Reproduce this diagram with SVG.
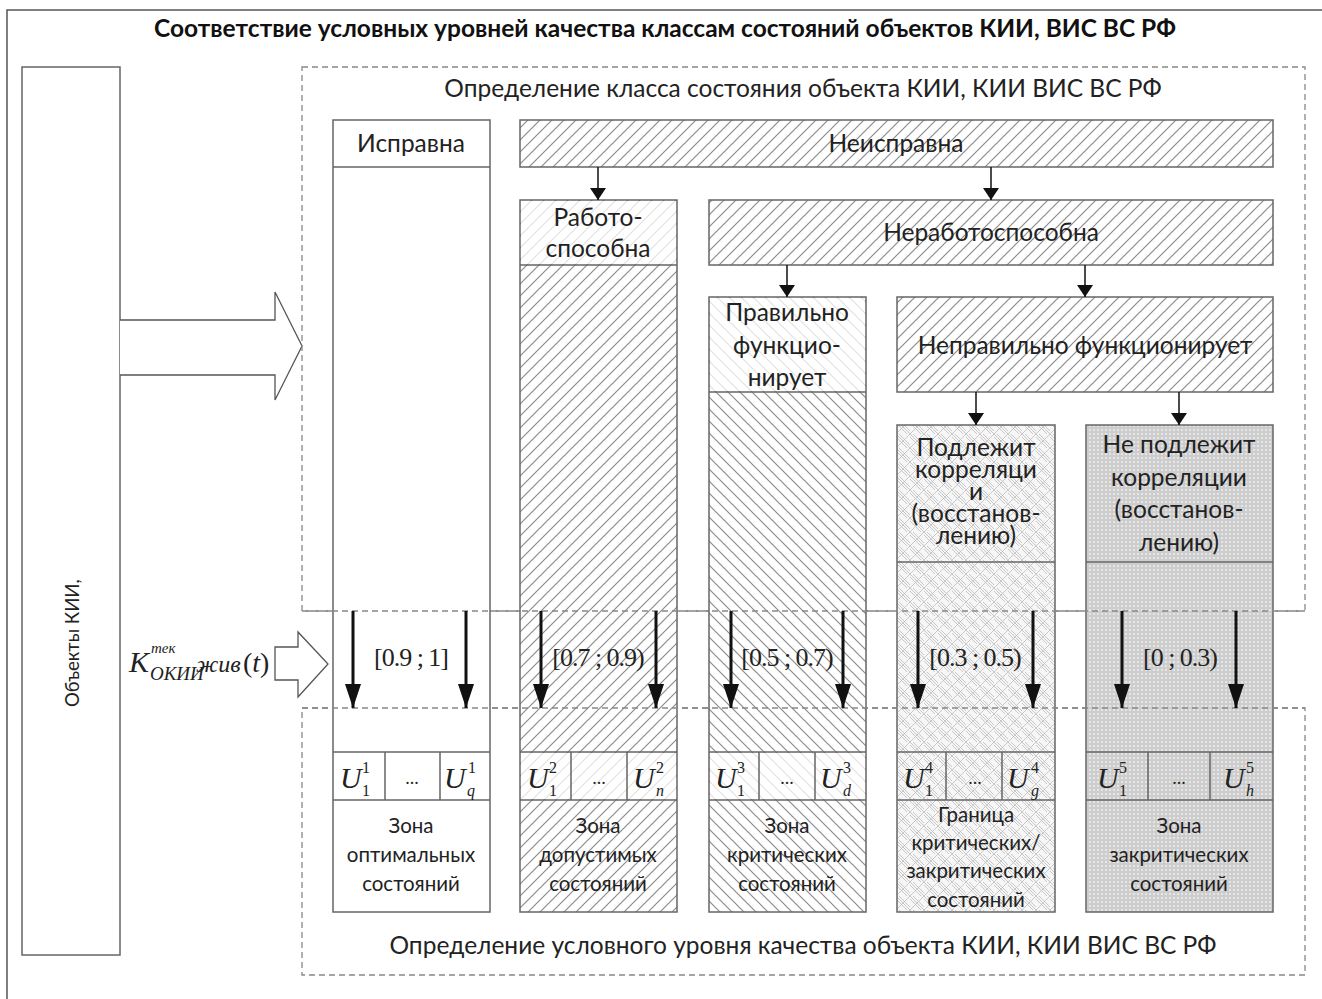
<svg xmlns="http://www.w3.org/2000/svg" width="1322" height="999" viewBox="0 0 1322 999">
  <style>
    .frame { fill: none; stroke: #555; stroke-width: 1.5; }
    .box { stroke: #666; stroke-width: 1.5; }
    .sep { stroke: #666; stroke-width: 1.5; fill: none; }
    .dash { fill: none; stroke: #888; stroke-width: 1.3; stroke-dasharray: 6 4; }
    .lbl { font-family: Lato, "Open Sans", sans-serif; font-size: 24.5px; fill: #222; text-anchor: middle; }
    .zone { font-family: Lato, "Open Sans", sans-serif; font-size: 20.5px; fill: #222; text-anchor: middle; }
    .title { font-family: Lato, "Open Sans", sans-serif; font-size: 24.5px; font-weight: bold; fill: #111; text-anchor: middle; }
    .math { font-family: "Liberation Serif", "DejaVu Serif", serif; fill: #222; }
    .u { font-family: "Liberation Serif", serif; font-style: italic; font-size: 30px; fill: #222; }
    .ix { font-family: "Liberation Serif", serif; font-size: 16px; fill: #222; }
    .ixi { font-family: "Liberation Serif", serif; font-style: italic; font-size: 16px; fill: #222; }
    .rng { font-family: "Liberation Serif", serif; font-size: 26px; fill: #222; text-anchor: middle; letter-spacing: -1px; }
    .dots { font-family: "Liberation Serif", serif; font-size: 18px; fill: #222; text-anchor: middle; }
    .conn { stroke: #111; stroke-width: 1.5; fill: none; }
    .big { stroke: #111; stroke-width: 3; fill: none; }
    .hollow { fill: #fff; stroke: #555; stroke-width: 1.3; }
  </style>
  <defs>
    <pattern id="fwd" width="12" height="12" patternUnits="userSpaceOnUse">
      <rect width="12" height="12" fill="#fff"/>
      <path d="M-2,2 L2,-2 M0,12 L12,0 M10,14 L14,10" stroke="#8c8c8c" stroke-width="1.2"/>
    </pattern>
    <pattern id="fwdLight" width="12" height="12" patternUnits="userSpaceOnUse">
      <rect width="12" height="12" fill="#fff"/>
      <path d="M-2,2 L2,-2 M0,12 L12,0 M10,14 L14,10" stroke="#e2e2e2" stroke-width="1.2"/>
    </pattern>
    <pattern id="back" width="12" height="12" patternUnits="userSpaceOnUse">
      <rect width="12" height="12" fill="#fff"/>
      <path d="M-2,10 L2,14 M0,0 L12,12 M10,-2 L14,2" stroke="#8c8c8c" stroke-width="1.2"/>
    </pattern>
    <pattern id="backLight" width="12" height="12" patternUnits="userSpaceOnUse">
      <rect width="12" height="12" fill="#fff"/>
      <path d="M-2,10 L2,14 M0,0 L12,12 M10,-2 L14,2" stroke="#e2e2e2" stroke-width="1.2"/>
    </pattern>
    <pattern id="cross" width="14" height="14" patternUnits="userSpaceOnUse">
      <rect width="14" height="14" fill="#f6f6f6"/>
      <path d="M0,0 L14,14 M0,14 L14,0 M0,3 L11,14 M3,0 L14,11" stroke="#bdbdbd" stroke-width="0.8"/>
    </pattern>
    <pattern id="dot" width="4" height="4" patternUnits="userSpaceOnUse">
      <rect width="4" height="4" fill="#cdcdcd"/>
      <circle cx="2" cy="2" r="1.1" fill="#ececec"/>
    </pattern>
    <marker id="tip" viewBox="0 0 12 16" refX="12" refY="8" markerWidth="12" markerHeight="16" markerUnits="userSpaceOnUse" orient="auto">
      <path d="M0,0 L12,8 L0,16 Z" fill="#111"/>
    </marker>
    <marker id="tipBig" viewBox="0 0 24 16" refX="24" refY="8" markerWidth="24" markerHeight="16" markerUnits="userSpaceOnUse" orient="auto">
      <path d="M0,0 L24,8 L0,16 Z" fill="#111"/>
    </marker>
  </defs>

  <rect width="1322" height="999" fill="#fff"/>
  <rect class="frame" x="7" y="10" width="1330" height="1010"/>
  <text class="title" x="665" y="37">Соответствие условных уровней качества классам состояний объектов КИИ, ВИС ВС РФ</text>

  <!-- objects block on the left -->
  <g id="objects">
    <rect class="box" x="22" y="67" width="98" height="888" fill="#fff"/>
    <text class="lbl" x="0" y="0" transform="translate(79,707) rotate(-90)" style="text-anchor:start; font-size:18.5px">Объекты КИИ,</text>
  </g>

  <!-- hollow input arrows -->
  <g id="input-arrows">
    <path class="hollow" d="M120,320 L275,320 L275,292 L302,346 L275,400 L275,375 L120,375"/>
    <path class="hollow" d="M275,647 L298,647 L298,632 L328,664 L298,697 L298,680 L275,680 Z"/>
  </g>

  <!-- coefficient label -->
  <g id="coef">
    <text class="math" x="129" y="672" font-size="30" font-style="italic">K</text>
    <text class="math" x="151" y="653" font-size="15" font-style="italic">тек</text>
    <text class="math" x="150" y="680" font-size="19" font-style="italic">ОКИИ</text>
    <text class="math" x="196" y="672" font-size="24" font-style="italic">жив</text>
    <text class="math" x="243" y="672" font-size="28">(<tspan font-style="italic">t</tspan>)</text>
  </g>

  <!-- dashed zones -->
  <g id="zone-class">
    <rect class="dash" x="302" y="67" width="1003" height="544"/>
    <text class="lbl" x="803" y="97">Определение класса состояния объекта КИИ, КИИ ВИС ВС РФ</text>
  </g>
  <g id="zone-level">
    <rect class="dash" x="302" y="708" width="1003" height="267"/>
    <text class="lbl" x="803" y="954">Определение условного уровня качества объекта КИИ, КИИ ВИС ВС РФ</text>
  </g>

  <!-- class headers -->
  <g id="neispravna">
    <rect class="box" x="520" y="120" width="753" height="47" fill="url(#fwd)"/>
    <text class="lbl" x="896" y="152">Неисправна</text>
  </g>
  <g id="nerabotosposobna">
    <rect class="box" x="709" y="200" width="564" height="65" fill="url(#fwd)"/>
    <text class="lbl" x="991" y="241">Неработоспособна</text>
  </g>
  <g id="nepravilno">
    <rect class="box" x="897" y="297" width="376" height="95" fill="url(#fwd)"/>
    <text class="lbl" x="1085" y="354">Неправильно функционирует</text>
  </g>

  <!-- column 1 -->
  <g id="col-ispravna">
    <rect class="box" x="333" y="120" width="157" height="792" fill="#fff"/>
    <path class="sep" d="M333,167 H490 M333,752 H490 M333,800 H490 M385,752 V800 M440,752 V800"/>
    <text class="lbl" x="411" y="152">Исправна</text>
    <text class="u" x="340" y="788">U</text><text class="ix" x="362" y="773">1</text><text class="ix" x="362" y="796">1</text>
    <text class="dots" x="412" y="784">...</text>
    <text class="u" x="444" y="788">U</text><text class="ix" x="468" y="773">1</text><text class="ixi" x="467" y="796">q</text>
    <text class="zone" x="411" y="833">Зона</text>
    <text class="zone" x="411" y="862">оптимальных</text>
    <text class="zone" x="411" y="891">состояний</text>
  </g>

  <!-- column 2 -->
  <g id="col-rabotosposobna">
    <rect class="box" x="520" y="200" width="157" height="712" fill="url(#fwd)"/>
    <rect x="521" y="201" width="155" height="63" fill="url(#fwdLight)"/>
    <rect x="521" y="753" width="155" height="46" fill="url(#fwdLight)"/>
    <path class="sep" d="M520,265 H677 M520,752 H677 M520,800 H677 M571,752 V800 M627,752 V800"/>
    <text class="lbl" x="598" y="226">Работо-</text>
    <text class="lbl" x="598" y="257">способна</text>
    <text class="u" x="527" y="788">U</text><text class="ix" x="549" y="773">2</text><text class="ix" x="549" y="796">1</text>
    <text class="dots" x="599" y="784">...</text>
    <text class="u" x="633" y="788">U</text><text class="ix" x="656" y="773">2</text><text class="ixi" x="656" y="796">n</text>
    <text class="zone" x="598" y="833">Зона</text>
    <text class="zone" x="598" y="862">допустимых</text>
    <text class="zone" x="598" y="891">состояний</text>
  </g>

  <!-- column 3 -->
  <g id="col-pravilno">
    <rect class="box" x="709" y="297" width="157" height="615" fill="url(#back)"/>
    <rect x="710" y="298" width="155" height="93" fill="url(#backLight)"/>
    <rect x="710" y="753" width="155" height="46" fill="url(#backLight)"/>
    <path class="sep" d="M709,392 H866 M709,752 H866 M709,800 H866 M759,752 V800 M815,752 V800"/>
    <text class="lbl" x="787" y="321">Правильно</text>
    <text class="lbl" x="787" y="354">функцио-</text>
    <text class="lbl" x="787" y="386">нирует</text>
    <text class="u" x="715" y="788">U</text><text class="ix" x="737" y="773">3</text><text class="ix" x="737" y="796">1</text>
    <text class="dots" x="787" y="784">...</text>
    <text class="u" x="820" y="788">U</text><text class="ix" x="843" y="773">3</text><text class="ixi" x="843" y="796">d</text>
    <text class="zone" x="787" y="833">Зона</text>
    <text class="zone" x="787" y="862">критических</text>
    <text class="zone" x="787" y="891">состояний</text>
  </g>

  <!-- column 4 -->
  <g id="col-podlezhit">
    <rect class="box" x="897" y="425" width="158" height="487" fill="url(#cross)"/>
    <path class="sep" d="M897,562 H1055 M897,752 H1055 M897,800 H1055 M946,752 V800 M1002,752 V800"/>
    <text class="lbl" x="976" y="456">Подлежит</text>
    <text class="lbl" x="976" y="478">корреляци</text>
    <text class="lbl" x="976" y="500">и</text>
    <text class="lbl" x="976" y="522">(восстанов-</text>
    <text class="lbl" x="976" y="544">лению)</text>
    <text class="u" x="903" y="788">U</text><text class="ix" x="925" y="773">4</text><text class="ix" x="925" y="796">1</text>
    <text class="dots" x="975" y="784">...</text>
    <text class="u" x="1007" y="788">U</text><text class="ix" x="1031" y="773">4</text><text class="ixi" x="1031" y="796">g</text>
    <text class="zone" x="976" y="822">Граница</text>
    <text class="zone" x="976" y="850">критических/</text>
    <text class="zone" x="976" y="878">закритических</text>
    <text class="zone" x="976" y="907">состояний</text>
  </g>

  <!-- column 5 -->
  <g id="col-nepodlezhit">
    <rect class="box" x="1086" y="425" width="187" height="487" fill="url(#dot)"/>
    <path class="sep" d="M1086,562 H1273 M1086,752 H1273 M1086,800 H1273 M1148,752 V800 M1210,752 V800"/>
    <text class="lbl" x="1179" y="453">Не подлежит</text>
    <text class="lbl" x="1179" y="486">корреляции</text>
    <text class="lbl" x="1179" y="518">(восстанов-</text>
    <text class="lbl" x="1179" y="551">лению)</text>
    <text class="u" x="1097" y="788">U</text><text class="ix" x="1119" y="773">5</text><text class="ix" x="1119" y="796">1</text>
    <text class="dots" x="1179" y="784">...</text>
    <text class="u" x="1223" y="788">U</text><text class="ix" x="1246" y="773">5</text><text class="ixi" x="1246" y="796">h</text>
    <text class="zone" x="1179" y="833">Зона</text>
    <text class="zone" x="1179" y="862">закритических</text>
    <text class="zone" x="1179" y="891">состояний</text>
  </g>

  <!-- dashed borders drawn over the columns -->
  <g id="zone-edges">
    <path class="dash" d="M302,611 H1305 M302,708 H1305"/>
  </g>

  <!-- connectors -->
  <g id="connectors">
    <path class="conn" d="M598,167 V200" marker-end="url(#tip)"/>
    <path class="conn" d="M991,167 V200" marker-end="url(#tip)"/>
    <path class="conn" d="M787,265 V297" marker-end="url(#tip)"/>
    <path class="conn" d="M1085,265 V297" marker-end="url(#tip)"/>
    <path class="conn" d="M976,392 V425" marker-end="url(#tip)"/>
    <path class="conn" d="M1179,392 V425" marker-end="url(#tip)"/>

    <path class="big" d="M353,611 V708" marker-end="url(#tipBig)"/>
    <path class="big" d="M466,611 V708" marker-end="url(#tipBig)"/>
    <path class="big" d="M541,611 V708" marker-end="url(#tipBig)"/>
    <path class="big" d="M656,611 V708" marker-end="url(#tipBig)"/>
    <path class="big" d="M731,611 V708" marker-end="url(#tipBig)"/>
    <path class="big" d="M843,611 V708" marker-end="url(#tipBig)"/>
    <path class="big" d="M918,611 V708" marker-end="url(#tipBig)"/>
    <path class="big" d="M1033,611 V708" marker-end="url(#tipBig)"/>
    <path class="big" d="M1122,611 V708" marker-end="url(#tipBig)"/>
    <path class="big" d="M1236,611 V708" marker-end="url(#tipBig)"/>
  </g>

  <!-- value ranges -->
  <g id="ranges">
    <text class="rng" x="411" y="666">[0.9 ; 1]</text>
    <text class="rng" x="598" y="666">[0.7 ; 0.9)</text>
    <text class="rng" x="787" y="666">[0.5 ; 0.7)</text>
    <text class="rng" x="975" y="666">[0.3 ; 0.5)</text>
    <text class="rng" x="1180" y="666">[0 ; 0.3)</text>
  </g>
</svg>
